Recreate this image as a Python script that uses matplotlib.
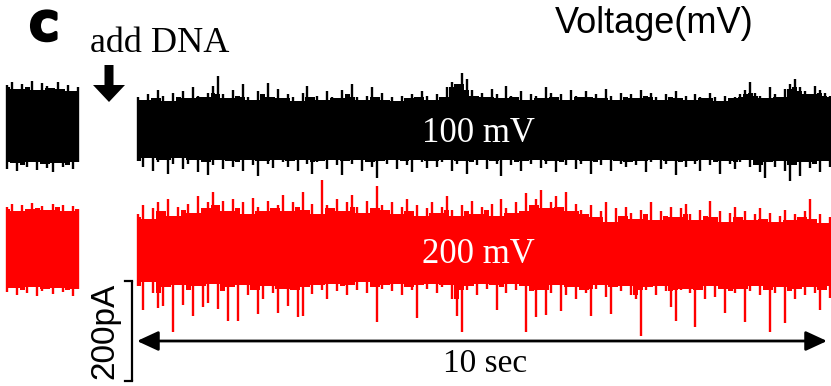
import numpy as np
import matplotlib
matplotlib.use("Agg")
import matplotlib.pyplot as plt
from matplotlib.patches import FancyArrow
import matplotlib.patheffects as pe

# ---------------- data (pA deviations from each trace's mean current) ----------------
black_top = [64, 59, 70, 62, 78, 67, 57, 73, 64, 76,
             62, 84, 67, 64, 73, 87, 106, 70, 62, 78,
             67, 90, 64, 59, 76, 70, 92, 64, 81, 62,
             70, 64, 56, 73, 87, 64, 67, 59, 76, 64,
             62, 78, 70, 90, 64, 59, 67, 84, 64, 73,
             59, 64, 56, 67, 62, 70, 64, 76, 67, 59,
             70, 64, 84, 95, 90, 112, 101, 78, 67, 73,
             64, 81, 70, 62, 87, 67, 64, 76, 59, 70,
             67, 62, 84, 73, 64, 70, 59, 78, 67, 64,
             76, 64, 70, 62, 81, 67, 59, 73, 64, 70,
             62, 78, 67, 73, 64, 59, 70, 64, 76, 62,
             67, 59, 70, 64, 62, 73, 64, 56, 67, 62,
             64, 70, 78, 95, 73, 67, 62, 84, 70, 64,
             81, 90, 101, 84, 76, 70, 87, 78, 73, 67]
black_bot = [-64, -75, -58, -83, -66, -61, -89, -69, -58, -80,
             -69, -61, -86, -66, -92, -72, -61, -80, -64, -75,
             -66, -83, -61, -72, -94, -64, -69, -78, -61, -66,
             -75, -64, -83, -61, -69, -89, -66, -64, -80, -61,
             -72, -92, -64, -69, -61, -83, -66, -75, -97, -64,
             -69, -61, -80, -64, -72, -86, -61, -66, -78, -64,
             -75, -66, -61, -83, -69, -64, -89, -66, -72, -61,
             -80, -64, -69, -94, -61, -72, -66, -83, -64, -69,
             -61, -78, -69, -64, -86, -66, -72, -61, -80, -69,
             -64, -89, -66, -72, -61, -83, -64, -69, -75, -66,
             -72, -64, -86, -66, -61, -80, -69, -64, -92, -66,
             -75, -64, -69, -83, -61, -72, -66, -89, -64, -69,
             -80, -66, -61, -75, -72, -86, -97, -66, -75, -64,
             -83, -103, -72, -94, -66, -78, -69, -86, -64, -75]
black_left_top = [84, 90, 76, 86, 80, 92, 74, 88, 82, 78, 90, 76, 84, 72, 80]
black_left_bot = [-84, -72, -88, -76, -80, -70, -86, -74, -82, -90, -72, -80, -76, -84, -70]

red_top = [66, 84, 57, 78, 90, 72, 96, 63, 81, 75,
           87, 69, 102, 78, 90, 111, 84, 93, 72, 96,
           78, 90, 66, 99, 81, 72, 93, 78, 84, 105,
           72, 90, 81, 111, 75, 87, 66, 135, 84, 78,
           96, 72, 90, 105, 81, 69, 93, 78, 123, 84,
           75, 90, 66, 81, 96, 72, 84, 63, 78, 90,
           69, 81, 102, 75, 63, 84, 72, 93, 66, 81,
           75, 87, 63, 96, 78, 69, 90, 72, 108, 84,
           96, 114, 78, 90, 102, 81, 111, 72, 87, 75,
           66, 84, 60, 72, 90, 51, 78, 63, 81, 69,
           57, 75, 66, 90, 54, 72, 63, 81, 60, 78,
           87, 66, 54, 75, 63, 93, 60, 72, 51, 69,
           81, 60, 72, 54, 66, 78, 57, 69, 51, 63,
           75, 54, 66, 60, 72, 96, 57, 66, 48, 60]
red_bot = [-78, -126, -70, -91, -122, -118, -80, -170, -75, -116,
           -86, -138, -78, -120, -112, -73, -124, -88, -148, -80,
           -148, -75, -96, -86, -134, -104, -78, -91, -132, -83,
           -118, -86, -140, -138, -80, -93, -75, -86, -104, -73,
           -88, -78, -96, -75, -86, -70, -91, -80, -150, -83,
           -75, -88, -73, -96, -80, -86, -142, -75, -83, -73,
           -91, -80, -75, -104, -138, -170, -86, -78, -96, -73,
           -83, -75, -126, -80, -91, -73, -86, -78, -170, -88,
           -140, -86, -136, -91, -75, -128, -96, -80, -104, -86,
           -91, -138, -83, -75, -99, -134, -80, -88, -78, -96,
           -104, -178, -86, -80, -96, -78, -88, -120, -148, -86,
           -83, -91, -160, -86, -104, -78, -99, -83, -132, -88,
           -91, -83, -150, -88, -78, -96, -86, -170, -91, -80,
           -152, -88, -104, -83, -96, -80, -91, -126, -86, -101]
red_left_top = [82, 88, 74, 86, 78, 90, 80, 84, 76, 88, 82, 86, 74, 84, 78]
red_left_bot = [-88, -80, -94, -84, -90, -78, -96, -86, -82, -92, -80, -88, -84, -96, -82]

voltages = ["100 mV", "200 mV"]
scale_current = 200   # pA
scale_time = 10       # sec

# ---------------- figure ----------------
W, H = 831, 386
fig = plt.figure(figsize=(W / 100, H / 100), dpi=100)

# data axes: x in seconds, y in pA (0.5 px per pA, 69 px per second)
ax = fig.add_axes([0, 0, 1, 1])
ax.set_xlim(-137 / 69.0, (W - 137) / 69.0)
ax.set_ylim(0, H * 2)
ax.axis("off")

# overlay axes in pixel coords for annotations
ov = fig.add_axes([0, 0, 1, 1], facecolor="none")
ov.set_xlim(0, W)
ov.set_ylim(H, 0)
ov.axis("off")

black_c = (H - 129) * 2
red_c = (H - 247) * 2

t_main = np.linspace(0.02, 10.04, len(black_top))
t_left = np.linspace(-1.88, -0.86, len(black_left_top))


def draw_trace(t, top, bot, center, color):
    top = np.asarray(top, float)
    bot = np.asarray(bot, float)
    # solid core band: lowest neighbouring excursion
    ctop = np.minimum(np.minimum(top, np.roll(top, 1)), np.roll(top, -1))
    cbot = np.maximum(np.maximum(bot, np.roll(bot, 1)), np.roll(bot, -1))
    ax.fill_between(t, center + cbot, center + ctop, step="mid",
                    color=color, lw=0)
    # thin spikes
    ax.vlines(t, center + bot, center + top, color=color, lw=1.7)


draw_trace(t_main, black_top, black_bot, black_c, "black")
draw_trace(t_left, black_left_top, black_left_bot, black_c + 4, "black")
draw_trace(t_main, red_top, red_bot, red_c, "#ff0000")
draw_trace(t_left, red_left_top, red_left_bot, red_c - 2, "#ff0000")

# scale bars
xb = -0.075
ax.plot([xb, xb], [10, 10 + scale_current], color="black", lw=1.6,
        solid_capstyle="butt")
ax.plot([xb - 0.1, xb], [10 + scale_current] * 2, color="black", lw=1.6)
ax.plot([xb - 0.1, xb], [10, 10], color="black", lw=1.6)
ax.annotate("", xy=(scale_time, 90), xytext=(0, 90),
            arrowprops=dict(arrowstyle="<|-|>,head_length=0.65,head_width=0.3",
                            mutation_scale=20, color="black", lw=2,
                            shrinkA=0, shrinkB=0))

# texts
ov.text(44, 29, "C", ha="center", va="center", fontsize=28,
        fontweight="black", family="DejaVu Sans",
        path_effects=[pe.withStroke(linewidth=2.5, foreground="black")])
ov.text(90, 52, "add DNA", ha="left", va="baseline", fontsize=26,
        family="Liberation Serif")
ov.add_patch(FancyArrow(109, 65, 0, 37, width=9, head_width=32, head_length=17,
                        length_includes_head=True, color="black", lw=0))
ov.text(555, 33, "Voltage(mV)", ha="left", va="baseline", fontsize=26,
        family="Liberation Sans")
ov.text(478, 142, voltages[0], ha="center", va="baseline", fontsize=25,
        family="Liberation Serif", color="white")
ov.text(478, 263, voltages[1], ha="center", va="baseline", fontsize=25,
        family="Liberation Serif", color="white")
ov.text(485, 372, "10 sec", ha="center", va="baseline", fontsize=24,
        family="Liberation Serif")
ov.text(105, 331, "200pA", ha="center", va="center", rotation=90,
        fontsize=24, family="Liberation Sans")

fig.savefig("out.png", dpi=100)
